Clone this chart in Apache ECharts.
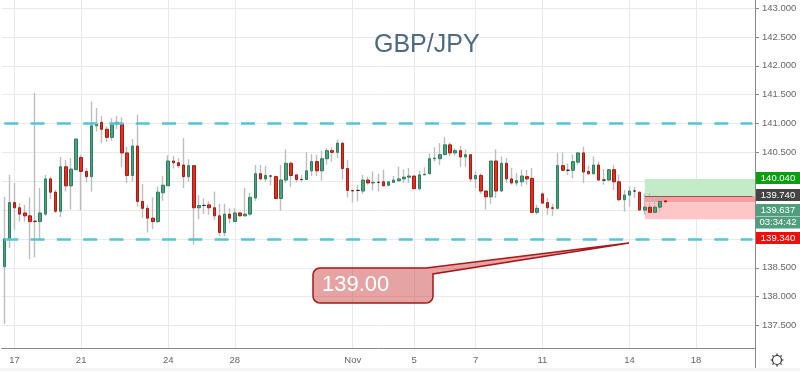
<!DOCTYPE html>
<html><head><meta charset="utf-8">
<style>html,body{margin:0;padding:0;background:#fff}#c{width:800px;height:371px}</style>
<script src="https://cdn.jsdelivr.net/npm/echarts@6/dist/echarts.min.js"></script>
</head><body><div id="c"></div>
<script>
const opens=[138.52,139.01,139.63,139.54,139.45,139.40,139.31,139.30,139.43,140.04,139.81,139.48,140.25,139.92,140.20,140.41,140.17,140.08,140.96,141.02,140.90,140.76,140.99,140.99,140.49,140.10,140.61,139.65,139.53,139.36,139.30,139.80,139.92,140.35,140.32,140.28,140.08,140.27,139.54,139.58,139.59,139.54,139.40,139.11,139.43,139.30,139.45,139.40,139.43,139.71,140.13,140.04,140.09,140.08,139.70,140.02,140.31,140.11,140.03,140.03,140.18,140.34,140.18,140.39,140.53,140.50,140.66,140.22,139.84,139.84,139.83,140.02,139.97,139.98,139.99,139.93,139.98,140.01,140.04,140.07,140.09,139.87,140.11,140.13,140.39,140.39,140.46,140.63,140.49,140.53,140.42,140.46,140.04,140.10,139.83,139.73,140.35,139.83,140.31,140.04,139.97,139.99,140.08,140.05,139.46,139.78,139.63,139.54,139.53,140.27,140.19,140.19,140.33,140.49,140.17,140.13,140.28,140.02,140.02,140.20,139.99,139.68,139.76,139.83,139.81,139.50,139.55,139.46,139.55,139.66];
const closes=[139.00,139.63,139.54,139.43,139.40,139.30,139.30,139.45,140.04,139.81,139.48,140.25,139.92,140.21,140.73,140.17,140.08,140.96,140.99,140.90,140.76,140.98,141.02,140.49,140.10,140.61,139.65,139.53,139.36,139.30,139.81,139.93,140.35,140.32,140.27,140.08,140.27,139.54,139.58,139.58,139.54,139.40,139.11,139.43,139.36,139.45,139.40,139.43,139.72,140.13,140.04,140.10,140.09,139.70,140.02,140.31,140.10,140.03,140.03,140.18,140.34,140.18,140.39,140.53,140.50,140.66,140.22,139.84,139.83,139.84,140.02,139.97,139.98,139.98,139.92,139.99,140.02,140.04,140.07,140.09,139.87,140.11,140.12,140.39,140.40,140.46,140.63,140.49,140.53,140.42,140.46,140.04,140.10,139.83,139.73,140.35,139.83,140.31,140.04,139.97,140.01,140.09,140.04,139.46,139.53,139.62,139.54,139.53,140.27,140.19,140.19,140.34,140.49,140.16,140.13,140.28,140.02,140.02,140.20,139.99,139.68,139.76,139.83,139.83,139.50,139.55,139.46,139.55,139.65,139.64];
const highs=[139.73,140.11,139.97,139.62,139.59,139.72,141.53,139.88,140.11,140.08,139.85,140.42,140.37,140.40,140.74,140.46,140.23,141.38,141.27,141.13,140.95,141.09,141.13,141.11,140.60,140.73,141.15,139.95,139.59,139.72,139.91,140.09,140.45,140.44,140.40,140.75,140.38,140.28,139.76,139.70,139.65,139.82,139.61,139.61,139.53,139.53,139.47,139.88,139.80,140.28,140.28,140.27,140.11,140.10,140.28,140.55,140.34,140.11,140.11,140.50,140.47,140.46,140.53,140.57,140.59,140.72,140.66,140.37,139.85,139.94,140.11,140.08,140.17,140.13,140.20,140.00,140.09,140.25,140.20,140.23,140.09,140.18,140.24,140.48,140.59,140.66,140.76,140.67,140.57,140.61,140.55,140.46,140.17,140.14,139.83,140.35,140.55,140.43,140.40,140.23,140.14,140.20,140.20,140.23,139.59,139.81,139.71,139.61,140.49,140.50,140.31,140.46,140.50,140.60,140.27,140.43,140.34,140.21,140.21,140.28,140.11,139.85,139.91,139.90,139.82,139.79,139.79,139.75,139.71,139.71];
const lows=[137.53,138.84,139.16,139.30,139.30,138.65,138.68,139.01,139.40,139.69,139.45,139.38,139.82,139.51,140.19,139.50,139.98,139.82,140.86,140.66,140.68,140.70,140.90,140.24,139.97,139.99,139.56,139.36,139.11,139.17,139.28,139.66,139.92,140.22,140.23,139.88,139.99,138.90,139.34,139.43,139.42,139.33,139.05,139.05,139.27,139.30,139.39,139.39,139.40,139.66,140.02,139.99,139.93,139.69,139.49,139.97,139.90,139.98,139.99,140.02,140.09,140.09,140.01,140.29,140.34,140.40,140.03,139.72,139.63,139.65,139.78,139.94,139.84,139.82,139.92,139.91,139.97,139.99,139.97,139.97,139.86,139.84,140.11,140.11,140.34,140.28,140.46,140.44,140.44,140.25,140.25,139.99,139.88,139.78,139.51,139.61,139.71,139.82,139.97,139.94,139.92,139.91,139.94,139.45,139.42,139.61,139.42,139.40,139.51,140.18,140.11,140.05,140.28,139.97,140.11,140.11,140.01,139.94,140.01,139.85,139.65,139.47,139.56,139.71,139.50,139.42,139.45,139.46,139.47,139.63];
const xTickIndex=[2,15,32,45,68,80,92,105,122,135];
const xTickLabels=['17','21','24','28','Nov','5','7','11','14','18'];
const yTicks=[137.5,138,138.5,139,139.5,140,140.5,141,141.5,142,142.5,143];
const yLabelValues=[137.5,138,138.5,140.5,141,141.5,142,142.5,143];
const supportLevels=[141,139];
const targetPrice=140.04, entryPrice=139.74, currentPrice=139.637, stopPrice=139.34;
const tagTexts=['140.040','139.740','139.637','03:34:42','139.340'];
const calloutText='139.00';
const titleText='GBP/JPY';
const slotCount=147, positionStart=125;

const categories=[];for(let i=0;i<slotCount;i++)categories.push(String(i));
const wickData=opens.map((o,i)=>[o,closes[i],lows[i],highs[i]]);
const bodyData=opens.map((o,i)=>{const c=closes[i];return [o,c,Math.min(o,c),Math.max(o,c)];});
const GREEN='#4f9e7e',GREENB='#2b7f5e',RED='#e0301f',REDB='#a81a14',WICK='#bdbdbd',FONT='"Liberation Sans",Arial,sans-serif';
const isTick=i=>xTickIndex.indexOf(i)>=0;

function corner(cx,cy,r,a0,a1){const p=[];for(let k=0;k<=6;k++){const a=(a0+(a1-a0)*k/6)*Math.PI/180;p.push([cx+r*Math.cos(a),cy+r*Math.sin(a)]);}return p;}
const calloutPoints=[].concat(
 corner(320,275,7,180,270),
 [[426,268],[629,243],[433,274]],
 corner(426,296,7,0,90),
 corner(320,296,7,90,180));

const tagBoxes=[[172,'#0b9e10'],[189,'#444444'],[204,'#4f9e7e'],[216.5,'#4f9e7e'],[232,'#f20d0d']];
const graphics=[
 {type:'rect',z:0,shape:{x:0,y:368,width:800,height:3},style:{fill:'#f5f5f5'},silent:true},
 {type:'line',z:10,shape:{x1:755.5,y1:348,x2:755.5,y2:368},style:{stroke:'#888',lineWidth:1}},
 {type:'polygon',z:20,shape:{points:calloutPoints},style:{fill:'rgba(200,50,50,0.45)',stroke:'#a81818',lineWidth:1.5}},
 {type:'text',z:21,x:322,y:285,style:{text:calloutText,fill:'#fff',font:'22px '+FONT,verticalAlign:'middle'}},
 {type:'circle',z:20,shape:{cx:777,cy:360,r:4.5},style:{fill:'#fff',stroke:'#333',lineWidth:1.2}}
];
[[777,353.5,777,355],[777,365,777,366.5],[770.5,360,772,360],[782,360,783.5,360],[772.4,355.4,773.5,356.5],[780.5,363.5,781.6,364.6],[772.4,364.6,773.5,363.5],[780.5,356.5,781.6,355.4]].forEach(s=>{
 graphics.push({type:'line',z:20,shape:{x1:s[0],y1:s[1],x2:s[2],y2:s[3]},style:{stroke:'#333',lineWidth:1.2}});
});
tagBoxes.forEach((b,i)=>{
 graphics.push({type:'rect',z:30,shape:{x:756,y:b[0],width:44,height:12},style:{fill:b[1]}});
 graphics.push({type:'text',z:31,x:778,y:b[0]+6,style:{text:tagTexts[i],fill:'#fff',font:'9.5px '+FONT,align:'center',verticalAlign:'middle'}});
});

const chart=echarts.init(document.getElementById('c'),null,{renderer:'canvas'});
chart.setOption({
 animation:false,
 backgroundColor:'#fff',
 title:{text:titleText,left:369,top:28,textStyle:{fontFamily:FONT,fontSize:25,fontWeight:'normal',color:'#4f6a80'}},
 grid:{left:1.7,right:45,top:0,bottom:23,containLabel:false},
 xAxis:{type:'category',data:categories,
  axisLine:{lineStyle:{color:'#888',width:1}},
  axisTick:{alignWithLabel:true,length:3,lineStyle:{color:'#888'},interval:(i)=>isTick(i)},
  axisLabel:{interval:(i)=>isTick(i),margin:7,fontFamily:FONT,fontSize:9.5,color:'#666',
    formatter:(v,i)=>{const k=xTickIndex.indexOf(Number(v));return k>=0?xTickLabels[k]:'';}},
  splitLine:{show:true,alignWithLabel:true,interval:(i)=>isTick(i),lineStyle:{color:'#e9e9e9',width:1}}},
 yAxis:{type:'value',position:'right',min:137.11,max:143.14,scale:true,
  axisLine:{show:true,onZero:false,lineStyle:{color:'#888',width:1}},
  axisTick:{show:true,length:4,lineStyle:{color:'#888'},customValues:yTicks},
  axisLabel:{margin:7,fontFamily:FONT,fontSize:9.5,color:'#666',customValues:yLabelValues,formatter:v=>Number(v).toFixed(3)},
  splitLine:{show:true,lineStyle:{color:'#e9e9e9',width:1}}},
 series:[
  {type:'candlestick',name:'wick',z:2,data:wickData,barWidth:0.5,silent:true,
   itemStyle:{color:WICK,color0:WICK,borderColor:WICK,borderColor0:WICK,borderColorDoji:WICK,borderWidth:1.4},
   markArea:{silent:true,z:1,data:[
     [{name:'',itemStyle:{color:'#c4ebc8'},coord:[positionStart,targetPrice]},{coord:[Infinity,entryPrice]}],
     [{name:'',itemStyle:{color:'#fb9d9f'},coord:[positionStart,entryPrice]},{coord:[Infinity,currentPrice]}],
     [{name:'',itemStyle:{color:'#ffc6c8'},coord:[positionStart,currentPrice]},{coord:[Infinity,stopPrice]}]
   ]}},
  {type:'candlestick',name:'body',z:3,data:bodyData,barWidth:3,silent:true,
   itemStyle:{color:GREEN,color0:RED,borderColor:GREENB,borderColor0:REDB,borderColorDoji:'#222',borderWidth:1},
   markLine:{silent:true,z:6,symbol:'none',animation:false,label:{show:false},
    data:[
     ...supportLevels.map(l=>[{coord:[0,l],lineStyle:{color:'#50c6d6',width:2.5,type:[14,12.3]}},{coord:[slotCount-1,l]}]),
     [{coord:[positionStart,entryPrice],lineStyle:{color:'#8a5a5a',width:1,type:'solid'}},{coord:[slotCount-1,entryPrice]}]
    ]}}
 ],
 graphic:graphics
});
</script></body></html>
